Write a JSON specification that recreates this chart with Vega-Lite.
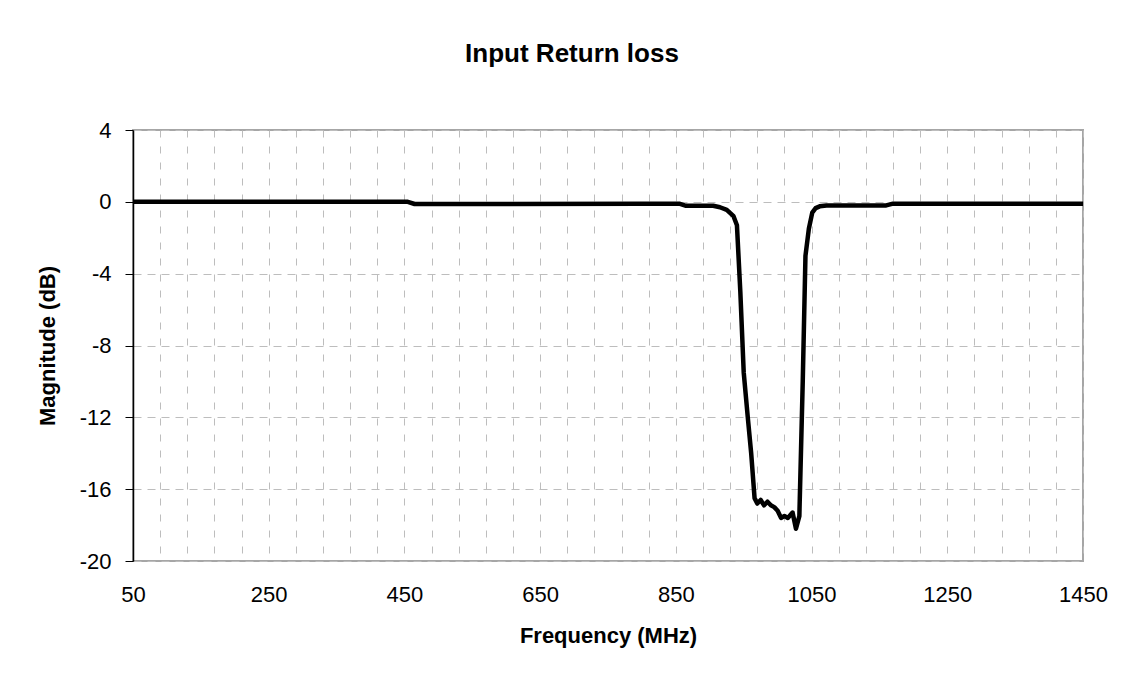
{
  "$schema": "https://vega.github.io/schema/vega-lite/v6.json",
  "width": 950,
  "height": 431,
  "autosize": {"type": "none"},
  "padding": {"left": 133, "top": 130, "right": 46, "bottom": 117},
  "background": "white",
  "title": {
    "text": "Input Return loss",
    "font": "Liberation Sans",
    "fontSize": 26,
    "fontWeight": "bold",
    "color": "black",
    "anchor": "middle",
    "dx": -36,
    "offset": 52
  },
  "config": {
    "view": {"stroke": "#a6a6a6", "strokeWidth": 2},
    "axis": {"labelFont": "Liberation Sans", "titleFont": "Liberation Sans", "labelColor": "black", "titleColor": "black"}
  },
  "data": {
    "values": [
      {"freq": 50, "mag": 0},
      {"freq": 200, "mag": 0},
      {"freq": 400, "mag": 0},
      {"freq": 455, "mag": 0},
      {"freq": 465, "mag": -0.12},
      {"freq": 600, "mag": -0.12},
      {"freq": 800, "mag": -0.1},
      {"freq": 855, "mag": -0.1},
      {"freq": 865, "mag": -0.22},
      {"freq": 905, "mag": -0.22},
      {"freq": 915, "mag": -0.3},
      {"freq": 925, "mag": -0.45},
      {"freq": 935, "mag": -0.8},
      {"freq": 940, "mag": -1.3},
      {"freq": 945, "mag": -5},
      {"freq": 950, "mag": -9.5},
      {"freq": 956, "mag": -12},
      {"freq": 961, "mag": -14},
      {"freq": 966, "mag": -16.5},
      {"freq": 970, "mag": -16.8},
      {"freq": 975, "mag": -16.6},
      {"freq": 980, "mag": -16.9},
      {"freq": 985, "mag": -16.7},
      {"freq": 990, "mag": -16.9},
      {"freq": 995, "mag": -17.0},
      {"freq": 1000, "mag": -17.2},
      {"freq": 1005, "mag": -17.6},
      {"freq": 1010, "mag": -17.5},
      {"freq": 1015, "mag": -17.6},
      {"freq": 1022, "mag": -17.3},
      {"freq": 1027, "mag": -18.2},
      {"freq": 1032, "mag": -17.5},
      {"freq": 1037, "mag": -10},
      {"freq": 1041, "mag": -3},
      {"freq": 1046, "mag": -1.5},
      {"freq": 1051, "mag": -0.6},
      {"freq": 1056, "mag": -0.35},
      {"freq": 1062, "mag": -0.25},
      {"freq": 1072, "mag": -0.2},
      {"freq": 1160, "mag": -0.2},
      {"freq": 1170, "mag": -0.1},
      {"freq": 1300, "mag": -0.1},
      {"freq": 1450, "mag": -0.1}
    ]
  },
  "mark": {"type": "line", "color": "black", "strokeWidth": 4.5, "strokeJoin": "round", "clip": true},
  "encoding": {
    "x": {
      "field": "freq",
      "type": "quantitative",
      "scale": {"domain": [50, 1450], "nice": false, "zero": false},
      "axis": {
        "title": "Frequency (MHz)",
        "titleFontSize": 22,
        "titleFontWeight": "bold",
        "titlePadding": 20,
        "values": [50, 90, 130, 170, 210, 250, 290, 330, 370, 410, 450, 490, 530, 570, 610, 650, 690, 730, 770, 810, 850, 890, 930, 970, 1010, 1050, 1090, 1130, 1170, 1210, 1250, 1290, 1330, 1370, 1410, 1450],
        "labelExpr": "(datum.value - 50) % 200 == 0 ? ('' + datum.value) : ''",
        "labelFontSize": 22,
        "labelPadding": 23,
        "labelOverlap": false,
        "labelBound": false,
        "labelFlush": false,
        "ticks": false,
        "domain": false,
        "grid": true,
        "gridColor": "#bdbdbd",
        "gridDash": [7, 9],
        "gridWidth": 1
      }
    },
    "y": {
      "field": "mag",
      "type": "quantitative",
      "scale": {"domain": [-20, 4], "nice": false, "zero": false},
      "axis": {
        "title": "Magnitude (dB)",
        "titleFontSize": 22,
        "titleFontWeight": "bold",
        "titlePadding": 20,
        "values": [-20, -16, -12, -8, -4, 0, 4],
        "labelExpr": "'' + datum.value",
        "labelFontSize": 22,
        "labelPadding": 14,
        "labelOverlap": false,
        "labelBound": false,
        "labelFlush": false,
        "ticks": true,
        "tickSize": 8,
        "tickColor": "black",
        "domain": true,
        "domainColor": "black",
        "domainWidth": 1.5,
        "grid": true,
        "gridColor": "#bdbdbd",
        "gridDash": [8, 6],
        "gridWidth": 1
      }
    }
  }
}
